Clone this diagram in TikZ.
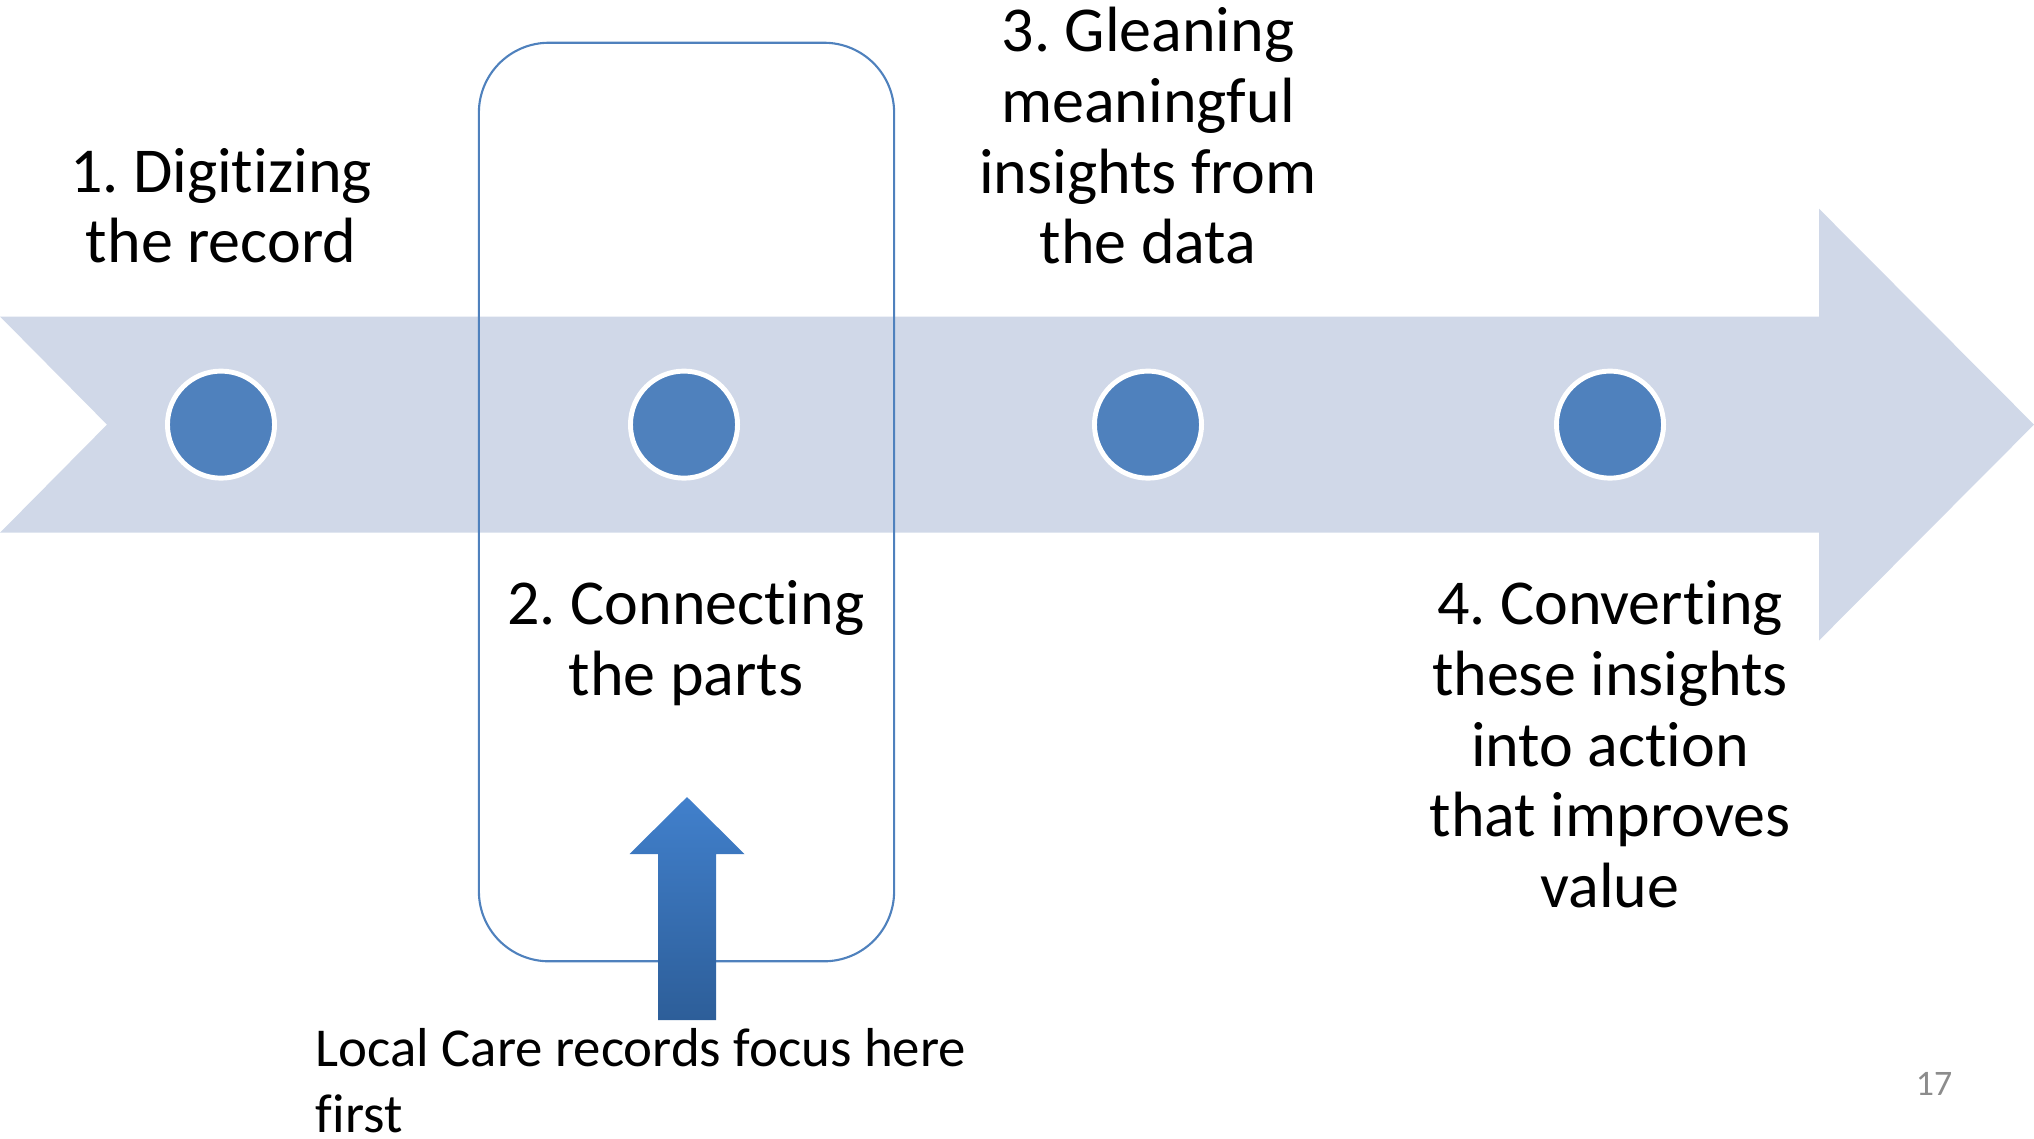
\documentclass[tikz,border=0pt]{standalone}
\usepackage{fontspec}
\setmainfont{Carlito}[Ligatures=NoCommon]
\frenchspacing
\usetikzlibrary{positioning}
\definecolor{bandblue}{HTML}{D0D8E8}
\definecolor{dotblue}{HTML}{4F81BD}
\definecolor{arrowtop}{HTML}{4180CC}
\definecolor{arrowbot}{HTML}{2D5E99}
\definecolor{pagegray}{HTML}{8C8C8C}
\begin{document}
\begin{tikzpicture}[x=0.01cm,y=-0.01cm,
  steptext/.style={align=center,inner sep=0pt,font=\fontsize{18.2}{20.1}\selectfont},
  dot/.style={circle,fill=dotblue,draw=white,line width=1.4pt,minimum size=1.07cm,inner sep=0pt}]
\useasboundingbox (0,0) rectangle (2034,1138);

% timeline band
\fill[bandblue] (0,316.5) -- (1819,316.5) -- (1819,208.7) -- (2034,424.6) -- (1819,640.5) -- (1819,532.7) -- (0,532.7) -- (107,424.6) -- cycle;

% focus box round step 2
\node[draw=dotblue,line width=0.6pt,rounded corners=0.7cm,minimum width=4.15cm,minimum height=9.18cm,inner sep=0pt] (focus) at (686.5,502) {};

% step dots
\foreach \n/\x in {1/221,2/684,3/1148,4/1610} {
  \node[dot] (c\n) at (\x,424.6) {};
}

% step labels
\node[steptext,anchor=south] (s1) at (221,264) {1. Digitizing\\the record};
\node[steptext,anchor=north] (s2) at (686,580) {2. Connecting\\the parts};
\node[steptext,anchor=south] (s3) at (1148,265) {3. Gleaning\\meaningful\\insights from\\the data};
\node[steptext,anchor=north] (s4) at (1610,580) {4. Converting\\these insights\\into action\\that improves\\value};

% note and block arrow
\node[align=left,inner sep=0pt,anchor=north west,font=\fontsize{15.6}{18.6}\selectfont] (note) at (315,1028) {Local Care records focus here\\first};
\coordinate (foot) at (687,1020);
\shade[top color=arrowtop,bottom color=arrowbot] (foot) ++(-29,0) -- ++(0,-166) -- ++(-28.5,0) -- ++(57.5,-57) -- ++(57.5,57) -- ++(-28.5,0) -- ++(0,166) -- cycle;

% page number
\node[inner sep=0pt,anchor=base,text=pagegray,font=\fontsize{10.2}{12}\selectfont] (pnum) at (1934,1095) {17};
\end{tikzpicture}
\end{document}
